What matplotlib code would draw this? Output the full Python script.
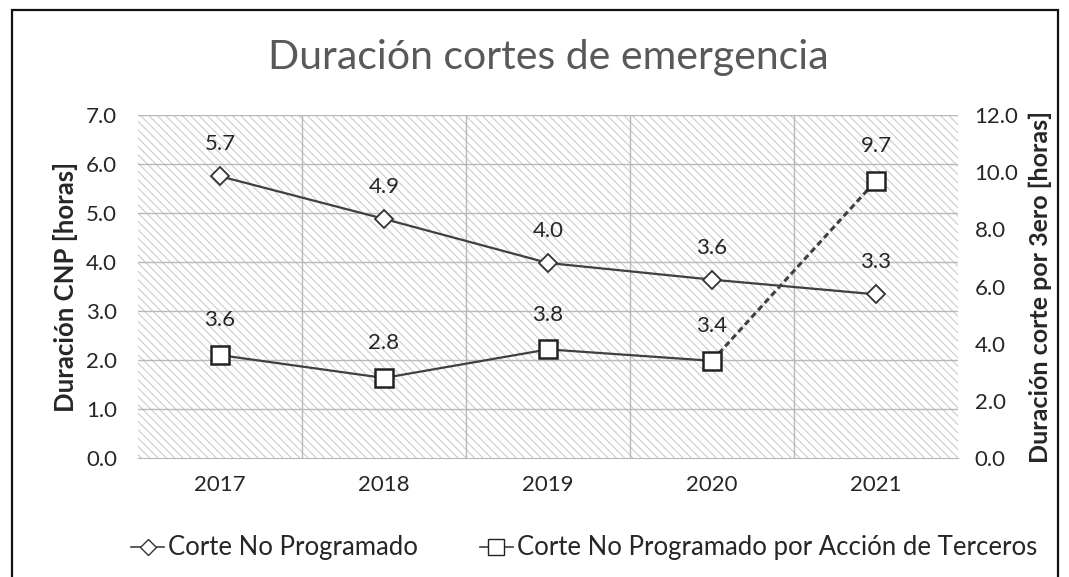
import matplotlib
matplotlib.use('agg')
import matplotlib.pyplot as plt
from matplotlib.patches import Rectangle
from matplotlib.lines import Line2D

plt.rcParams['font.family'] = ['Lato', 'DejaVu Sans']
plt.rcParams['hatch.linewidth'] = 0.8

years = ['2017', '2018', '2019', '2020', '2021']
cnp = [5.75, 4.88, 3.98, 3.64, 3.34]
cnp_labels = ['5.7', '4.9', '4.0', '3.6', '3.3']
tercero = [3.6, 2.8, 3.8, 3.4, 9.7]
tercero_labels = ['3.6', '2.8', '3.8', '3.4', '9.7']

txt = '#262626'
line_col = '#404040'

fig = plt.figure(figsize=(10.69, 5.77), dpi=100)
fig.patches.append(Rectangle((12 / 1069, -0.05), 1046 / 1069, 1.0 - 10 / 577 + 0.05,
                             transform=fig.transFigure, fill=False,
                             edgecolor='#111111', linewidth=1.6))

ax = fig.add_axes([138 / 1069, 1 - 458 / 577, 820 / 1069, 343 / 577])
ax2 = ax.twinx()

x = list(range(len(years)))
ax.set_xlim(-0.5, 4.5)
ax.set_ylim(0, 7)
ax2.set_ylim(0, 12)

# fondo rayado del area de trazado
ax.add_patch(Rectangle((0, 0), 1, 1, transform=ax.transAxes, facecolor='white',
                       hatch='\\\\\\\\', edgecolor='#cccccc', linewidth=0, zorder=0))

for v in [1, 2, 3, 4, 5, 6, 7]:
    ax.axhline(v, color='#b8b8b8', linewidth=1.0, zorder=1)
for b in [0.5, 1.5, 2.5, 3.5]:
    ax.axvline(b, color='#b8b8b8', linewidth=1.0, zorder=1)

for a in (ax, ax2):
    for s in a.spines.values():
        s.set_visible(False)
ax.spines['bottom'].set_visible(True)
ax.spines['bottom'].set_color('#b8b8b8')

ax.plot(x, cnp, color=line_col, linewidth=1.6, marker='D', markersize=9,
        markerfacecolor='white', markeredgecolor='#333333', markeredgewidth=1.3, zorder=4)
ax2.plot(x[:4], tercero[:4], color=line_col, linewidth=1.6, zorder=4)
ax2.plot(x[3:], tercero[3:], color=line_col, linewidth=2.2, linestyle=(0, (2, 1.2)), zorder=4)
ax2.plot(x, tercero, linestyle='none', marker='s', markersize=13,
         markerfacecolor='white', markeredgecolor='#222222', markeredgewidth=1.8, zorder=5)

for i in x:
    ax.annotate(cnp_labels[i], (i, cnp[i]), xytext=(0, 23), textcoords='offset points',
                ha='center', va='center', fontsize=16, color=txt)
    ax2.annotate(tercero_labels[i], (i, tercero[i]), xytext=(0, 25), textcoords='offset points',
                 ha='center', va='center', fontsize=16, color=txt)

ax.set_xticks(x)
ax.set_xticklabels(years)
ax.set_yticks([0, 1, 2, 3, 4, 5, 6, 7])
ax.set_yticklabels(['%.1f' % v for v in range(8)])
ax2.set_yticks([0, 2, 4, 6, 8, 10, 12])
ax2.set_yticklabels(['%.1f' % v for v in range(0, 13, 2)])
ax.tick_params(axis='both', length=0, labelsize=16, colors=txt, pad=15)
ax.tick_params(axis='x', pad=12)
ax2.tick_params(axis='y', length=0, labelsize=16, colors=txt, pad=12)

ax.set_ylabel('Duración CNP [horas]', fontsize=18.5, fontweight='bold', color=txt, labelpad=6)
ax2.set_ylabel('Duración corte por 3ero [horas]', fontsize=18, fontweight='bold', color=txt,
               labelpad=7)

fig.text(548 / 1069, 1 - 58 / 577, 'Duración cortes de emergencia', ha='center', va='center',
         fontsize=29.5, color='#595959')

handles = [
    Line2D([], [], color=line_col, linewidth=1.2, marker='D', markersize=8,
           markerfacecolor='white', markeredgecolor='#333333'),
    Line2D([], [], color=line_col, linewidth=1.2, marker='s', markersize=11,
           markerfacecolor='white', markeredgecolor='#222222'),
]
fig.legend(handles, ['Corte No Programado', 'Corte No Programado por Acción de Terceros'],
           loc='center', bbox_to_anchor=(584 / 1069, 1 - 548 / 577), ncol=2, frameon=False,
           fontsize=18.5, handlelength=1.3, handletextpad=0.15, columnspacing=2.4,
           labelcolor=txt)

fig.savefig('out.png', dpi=100)
plt.close(fig)
